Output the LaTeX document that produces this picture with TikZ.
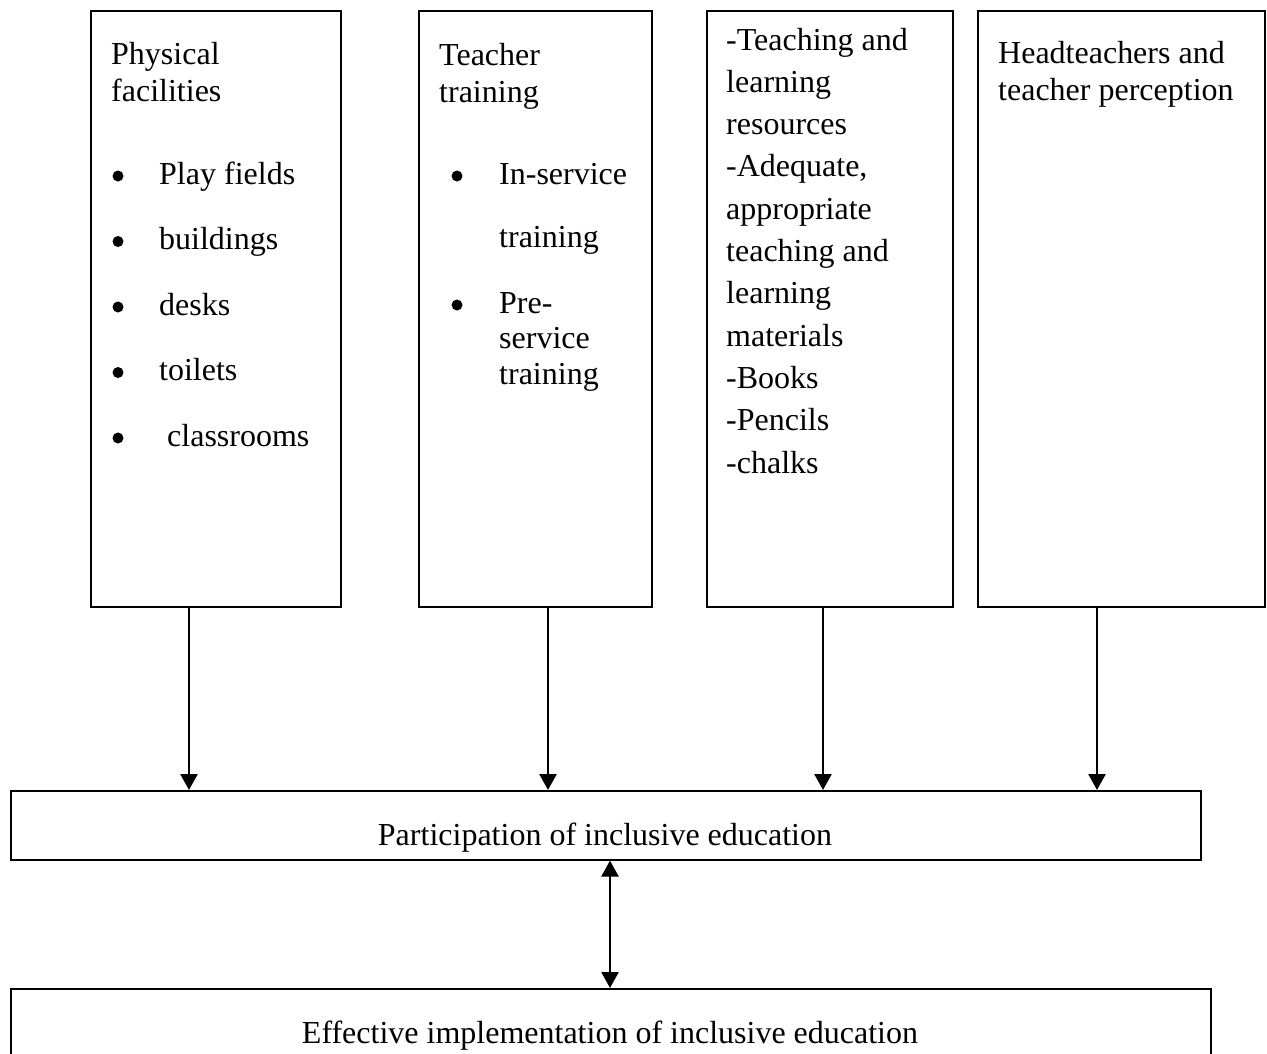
\documentclass[tikz,border=0pt]{standalone}
\usepackage{fontspec}
\setmainfont{Liberation Serif}
\usetikzlibrary{arrows.meta}
\begin{document}
\begin{tikzpicture}[x=1pt,y=-1pt,
  box/.style={draw=black,line width=1.6pt,anchor=north west,inner sep=0pt,rectangle},
  txt/.style={anchor=base west,inner sep=0pt,font=\fontsize{32}{37}\selectfont},
  ctxt/.style={anchor=base,inner sep=0pt,font=\fontsize{32}{37}\selectfont},
  bul/.style={circle,fill=black,inner sep=0pt,minimum size=11pt},
  arr/.style={line width=2.6pt,-{Triangle[width=17pt,length=16pt]}},
  darr/.style={line width=2.6pt,{Triangle[width=17pt,length=16pt]}-{Triangle[width=17pt,length=16pt]}}]
\clip (0,0) rectangle (1267,1053);
\fill[white] (0,0) rectangle (1267,1053);
% boxes
\node[box,minimum width=250pt,minimum height=596pt] (b1) at (90,10) {};
\node[box,minimum width=233pt,minimum height=596pt] (b2) at (418,10) {};
\node[box,minimum width=246pt,minimum height=596pt] (b3) at (706,10) {};
\node[box,minimum width=287pt,minimum height=596pt] (b4) at (977,10) {};
\node[box,minimum width=1190pt,minimum height=69pt] (part) at (10,790) {};
\node[box,minimum width=1200pt,minimum height=120pt] (eff) at (10,988) {};
% box 1 text
\node[txt] (t1a) at (111,64) {Physical};
\node[txt] (t1b) at (111,101) {facilities};
\node[txt] (t1c) at (159,184) {Play fields};
\node[txt] (t1d) at (159,249.5) {buildings};
\node[txt] (t1e) at (159,315) {desks};
\node[txt] (t1f) at (159,380.5) {toilets};
\node[txt] (t1g) at (167,446) {classrooms};
\foreach \yy/\nm in {184/p1,249.5/p2,315/p3,380.5/p4,446/p5}
  \node[bul] (\nm) at (118,\yy-8) {};
% box 2 text
\node[txt] (t2a) at (439,65) {Teacher};
\node[txt] (t2b) at (439,102) {training};
\node[txt] (t2c) at (499,184) {In-service};
\node[txt] (t2d) at (499,247) {training};
\node[txt] (t2e) at (499,313) {Pre-};
\node[txt] (t2f) at (499,348.5) {service};
\node[txt] (t2g) at (499,384) {training};
\node[bul] (q1) at (457,176) {};
\node[bul] (q2) at (457,305) {};
% box 3 text
\node[txt] (t3a) at (726,50) {-Teaching and};
\node[txt] (t3b) at (726,92.3) {learning};
\node[txt] (t3c) at (726,134.6) {resources};
\node[txt] (t3d) at (726,176.9) {-Adequate,};
\node[txt] (t3e) at (726,219.2) {appropriate};
\node[txt] (t3f) at (726,261.5) {teaching and};
\node[txt] (t3g) at (726,303.8) {learning};
\node[txt] (t3h) at (726,346.1) {materials};
\node[txt] (t3i) at (726,388.4) {-Books};
\node[txt] (t3j) at (726,430.7) {-Pencils};
\node[txt] (t3k) at (726,473) {-chalks};
% box 4 text
\node[txt] (t4a) at (998,63) {Headteachers and};
\node[txt] (t4b) at (998,100) {teacher perception};
% bottom texts
\node[ctxt] (tp) at (605,845) {Participation of inclusive education};
\node[ctxt] (te) at (610,1043) {Effective implementation of inclusive education};
% arrows
\coordinate (a1) at (189,0);
\coordinate (a2) at (548,0);
\coordinate (a3) at (823,0);
\coordinate (a4) at (1097,0);
\coordinate (a5) at (610,0);
\draw[arr] (a1 |- b1.south) -- (a1 |- part.north);
\draw[arr] (a2 |- b2.south) -- (a2 |- part.north);
\draw[arr] (a3 |- b3.south) -- (a3 |- part.north);
\draw[arr] (a4 |- b4.south) -- (a4 |- part.north);
\draw[darr] (a5 |- part.south) -- (a5 |- eff.north);
\end{tikzpicture}
\end{document}
